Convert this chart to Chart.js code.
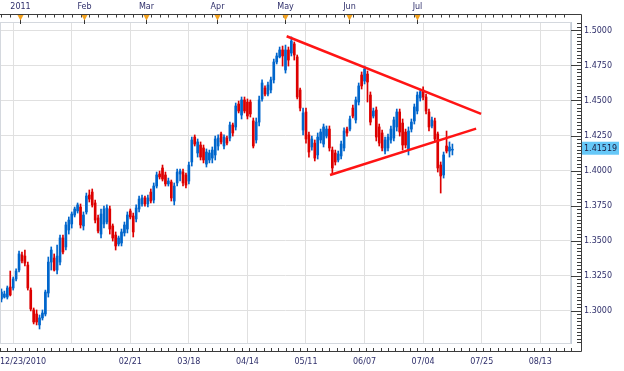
<!DOCTYPE html>
<html>
<head>
<meta charset="utf-8">
<script src="https://cdn.jsdelivr.net/npm/chart.js@4.4.1/dist/chart.umd.min.js"></script>
<style>
  html, body { margin: 0; padding: 0; background: #fff; }
  #wrap { position: relative; width: 624px; height: 371px; }
</style>
</head>
<body>
<div id="wrap"><canvas id="chart"></canvas></div>
<script>
// daily bars, index 0 = first bar on the left
const opens = [1.3082,1.3096,1.3096,1.3168,1.3161,1.3225,1.3289,1.3397,1.3389,1.3325,
  1.3146,1.3004,1.2975,1.2897,1.2947,1.2975,1.3125,1.3346,1.3375,1.3289,
  1.3346,1.3518,1.3454,1.3575,1.3618,1.3682,1.3711,1.3739,1.3604,1.3704,
  1.3825,1.3846,1.3768,1.3661,1.3546,1.3618,1.3632,1.3725,1.3604,1.3539,
  1.3475,1.3482,1.3554,1.3582,1.3711,1.3675,1.3654,1.3725,1.3761,1.3804,
  1.3761,1.3846,1.3789,1.3889,1.3975,1.4018,1.3968,1.3904,1.3918,1.3782,
  1.3911,1.3975,1.3989,1.3968,1.3925,1.4061,1.4239,1.4125,1.4182,1.4161,
  1.4046,1.4075,1.4089,1.4111,1.4175,1.4261,1.4175,1.4232,1.4232,1.4325,
  1.4311,1.4475,1.4396,1.4504,1.4489,1.4489,1.4354,1.4218,1.4346,1.4511,
  1.4589,1.4546,1.4575,1.4647,1.4775,1.4811,1.4861,1.4718,1.4861,1.4839,
  1.4904,1.4811,1.4575,1.4289,1.4418,1.4254,1.4168,1.4196,1.4111,1.4218,
  1.4189,1.4246,1.4296,1.4146,1.4125,1.4075,1.4104,1.4161,1.4296,1.4296,
  1.4446,1.4361,1.4489,1.4682,1.4639,1.4689,1.4539,1.4389,1.4432,1.4311,
  1.4268,1.4139,1.4161,1.4218,1.4232,1.4311,1.4418,1.4339,1.4275,1.4146,
  1.4296,1.4354,1.4425,1.4518,1.4575,1.4525,1.4418,1.4318,1.4354,1.4261,
  1.4039,1.3968,1.4175,1.4139,1.4146];
const highs = [1.3154,1.3139,1.3175,1.3282,1.3239,1.3297,1.3425,1.3418,1.3432,1.3346,
  1.3161,1.3018,1.3004,1.2968,1.3004,1.3146,1.3382,1.3454,1.3404,1.3468,
  1.3539,1.3539,1.3632,1.3668,1.3704,1.3739,1.3768,1.3761,1.3704,1.3839,
  1.3861,1.3868,1.3789,1.3682,1.3725,1.3746,1.3754,1.3746,1.3618,1.3561,
  1.3532,1.3582,1.3632,1.3704,1.3725,1.3696,1.3754,1.3818,1.3825,1.3818,
  1.3825,1.3868,1.3911,1.3989,1.3996,1.4039,1.3989,1.3946,1.3932,1.3911,
  1.4011,1.4011,1.4011,1.3982,1.4061,1.4239,1.4254,1.4225,1.4204,1.4182,
  1.4154,1.4146,1.4168,1.4246,1.4254,1.4275,1.4254,1.4246,1.4346,1.4339,
  1.4482,1.4496,1.4525,1.4525,1.4511,1.4504,1.4375,1.4375,1.4532,1.4647,
  1.4604,1.4632,1.4668,1.4796,1.4839,1.4882,1.4889,1.4896,1.4882,1.4954,
  1.4918,1.4825,1.4589,1.4446,1.4446,1.4275,1.4246,1.4218,1.4268,1.4296,
  1.4332,1.4318,1.4318,1.4168,1.4146,1.4139,1.4211,1.4304,1.4311,1.4389,
  1.4468,1.4525,1.4625,1.4704,1.4746,1.4711,1.4561,1.4446,1.4454,1.4332,
  1.4289,1.4239,1.4261,1.4318,1.4382,1.4439,1.4439,1.4368,1.4296,1.4311,
  1.4368,1.4475,1.4561,1.4582,1.4597,1.4546,1.4439,1.4382,1.4375,1.4275,
  1.4061,1.4132,1.4282,1.4204,1.4189];
const lows = [1.3061,1.3089,1.3082,1.3104,1.3146,1.3211,1.3275,1.3339,1.3318,1.3146,
  1.2997,1.2904,1.2897,1.2868,1.2932,1.2961,1.3096,1.3289,1.3282,1.3261,
  1.3325,1.3404,1.3432,1.3546,1.3589,1.3668,1.3696,1.3589,1.3575,1.3689,
  1.3775,1.3739,1.3625,1.3554,1.3518,1.3589,1.3618,1.3546,1.3496,1.3432,
  1.3461,1.3461,1.3532,1.3554,1.3654,1.3525,1.3632,1.3704,1.3746,1.3746,
  1.3739,1.3768,1.3768,1.3875,1.3939,1.3925,1.3889,1.3889,1.3782,1.3754,
  1.3889,1.3925,1.3889,1.3875,1.3904,1.4032,1.4175,1.4096,1.4075,1.4054,
  1.4025,1.4054,1.4054,1.4075,1.4146,1.4189,1.4154,1.4182,1.4211,1.4246,
  1.4289,1.4411,1.4368,1.4411,1.4368,1.4382,1.4161,1.4196,1.4318,1.4496,
  1.4532,1.4532,1.4554,1.4625,1.4761,1.4804,1.4746,1.4696,1.4746,1.4818,
  1.4789,1.4511,1.4425,1.4254,1.4196,1.4096,1.4146,1.4068,1.4082,1.4196,
  1.4168,1.4232,1.4139,1.3975,1.4039,1.4061,1.4082,1.4139,1.4246,1.4282,
  1.4375,1.4339,1.4468,1.4582,1.4618,1.4489,1.4325,1.4375,1.4211,1.4175,
  1.4139,1.4118,1.4139,1.4196,1.4211,1.4282,1.4246,1.4146,1.4161,1.4111,
  1.4275,1.4332,1.4404,1.4496,1.4504,1.4404,1.4282,1.4304,1.4204,1.3989,
  1.3839,1.3946,1.4125,1.4096,1.4111];
const closes = [1.3132,1.3118,1.3161,1.3111,1.3225,1.3282,1.3404,1.3354,1.3339,1.3161,
  1.3011,1.2918,1.2918,1.2947,1.2982,1.3132,1.3346,1.3432,1.3289,1.3389,
  1.3518,1.3418,1.3611,1.3646,1.3689,1.3725,1.3754,1.3611,1.3682,1.3818,
  1.3796,1.3754,1.3646,1.3568,1.3689,1.3725,1.3732,1.3582,1.3518,1.3461,
  1.3518,1.3561,1.3611,1.3682,1.3668,1.3561,1.3732,1.3796,1.3804,1.3761,
  1.3804,1.3782,1.3889,1.3968,1.3954,1.3939,1.3904,1.3925,1.3804,1.3889,
  1.3989,1.3996,1.3911,1.3896,1.4039,1.4218,1.4189,1.4204,1.4096,1.4075,
  1.4132,1.4125,1.4146,1.4225,1.4232,1.4204,1.4239,1.4196,1.4325,1.4268,
  1.4461,1.4425,1.4504,1.4425,1.4389,1.4404,1.4175,1.4346,1.4504,1.4625,
  1.4546,1.4611,1.4647,1.4775,1.4818,1.4861,1.4818,1.4861,1.4789,1.4925,
  1.4825,1.4525,1.4446,1.4411,1.4225,1.4132,1.4225,1.4089,1.4239,1.4275,
  1.4311,1.4296,1.4161,1.4018,1.4061,1.4118,1.4189,1.4282,1.4268,1.4368,
  1.4389,1.4504,1.4604,1.4604,1.4725,1.4632,1.4346,1.4425,1.4239,1.4196,
  1.4161,1.4218,1.4239,1.4296,1.4361,1.4418,1.4275,1.4182,1.4182,1.4282,
  1.4346,1.4454,1.4539,1.4561,1.4525,1.4425,1.4311,1.4361,1.4225,1.4018,
  1.3961,1.4111,1.4139,1.4168,1.4152];

const xTickIdx = [4, 24, 44, 64, 84, 104, 124, 144, 164, 184];
const xTickLabels = ["12/23/2010", "", "02/21", "03/18", "04/14", "05/11", "06/07", "07/04", "07/25", "08/13"];
const yTicks = [1.3, 1.325, 1.35, 1.375, 1.4, 1.425, 1.45, 1.475, 1.5];
const monthIdx = [6.2, 28.2, 49.4, 73.6, 96.8, 118.7, 141.9];
const monthLabels = ["2011", "Feb", "Mar", "Apr", "May", "Jun", "Jul"];
const upperLine = [{ x: 97.4, y: 1.4959 }, { x: 163.8, y: 1.4405 }];
const lowerLine = [{ x: 112.2, y: 1.3968 }, { x: 162.1, y: 1.4299 }];
const lastPrice = 1.41519;

const UP = "#0066cc";
const DOWN = "#dd0000";
const TREND = "#ff1414";
const GRID = "#e0e0e0";
const INK = "#2e2e6a";
const FONT = "8px 'DejaVu Sans'";

const barColors = closes.map((c, i) => (c >= opens[i] ? UP : DOWN));
const wicks = highs.map((h, i) => ({ x: i, y: [lows[i], h] }));
const bodies = opens.map((o, i) => ({ x: i, y: [o, closes[i]] }));

// frame, tick marks, month strip, date labels, last price tag
const decor = {
  id: "decor",
  afterDraw(chart) {
    const { ctx, chartArea: a, scales } = chart;
    const x = scales.x, y = scales.y;
    const R = 581.5, T = 14.5, B = 351.5;
    ctx.save();

    ctx.strokeStyle = "#d4d8de";
    ctx.lineWidth = 1;
    ctx.strokeRect(a.left + 0.5, a.top + 0.5, a.right - a.left - 1, a.bottom - a.top);

    ctx.strokeStyle = "#3c3c3c";
    ctx.beginPath();
    ctx.moveTo(0, T); ctx.lineTo(R, T); ctx.lineTo(R, B); ctx.lineTo(0, B);
    ctx.stroke();

    // price ticks on the right
    ctx.beginPath();
    for (let k = Math.ceil(y.min / 0.0025); k * 0.0025 <= y.max; k++) {
      const py = Math.round(y.getPixelForValue(k * 0.0025)) + 0.5;
      ctx.moveTo(k % 10 === 0 ? 571 : 577, py);
      ctx.lineTo(R, py);
    }
    // date ticks on the bottom
    for (let t = -0.5; t <= x.max; t += 2.5) {
      const px = Math.round(x.getPixelForValue(t)) + 0.5;
      const major = Math.abs((t - 4) % 20) < 0.01;
      ctx.moveTo(px, major ? 344 : 348);
      ctx.lineTo(px, B);
    }
    // small ticks under the month strip
    for (let t = 0; t <= x.max; t += 3) {
      const px = Math.round(x.getPixelForValue(t)) + 0.5;
      ctx.moveTo(px, T);
      ctx.lineTo(px, T + 3);
    }
    ctx.stroke();

    ctx.font = FONT;
    ctx.fillStyle = INK;
    ctx.textBaseline = "middle";

    monthIdx.forEach((m, i) => {
      const px = Math.round(x.getPixelForValue(m)) + 0.5;
      ctx.strokeStyle = "#333";
      ctx.beginPath();
      ctx.moveTo(px, 18); ctx.lineTo(px, 24);
      ctx.stroke();
      ctx.fillStyle = "#f3a21f";
      ctx.beginPath();
      ctx.moveTo(px - 3, 15); ctx.lineTo(px + 3, 15); ctx.lineTo(px, 20.5);
      ctx.closePath();
      ctx.fill();
      ctx.fillStyle = INK;
      ctx.textAlign = "center";
      ctx.fillText(monthLabels[i], px, 7);
    });

    ctx.textAlign = "left";
    xTickIdx.forEach((t, i) => {
      const s = xTickLabels[i];
      if (!s) return;
      const w = ctx.measureText(s).width;
      const px = x.getPixelForValue(t);
      ctx.fillText(s, Math.max(0, px - w / 2), 362);
    });

    const py = y.getPixelForValue(lastPrice) - 1;
    ctx.fillStyle = "#66c8f8";
    ctx.fillRect(582, py - 6.5, 37, 13);
    ctx.fillStyle = "#1c1c40";
    ctx.fillText(lastPrice.toFixed(5), 584, py + 0.5);

    ctx.restore();
  },
};

Chart.defaults.font.family = "'DejaVu Sans'";
Chart.defaults.font.size = 8;

new Chart(document.getElementById("chart"), {
  type: "bar",
  data: {
    datasets: [
      { type: "line", data: upperLine, borderColor: TREND, borderWidth: 2.5, pointRadius: 0, order: 0 },
      { type: "line", data: lowerLine, borderColor: TREND, borderWidth: 2.5, pointRadius: 0, order: 0 },
      { data: wicks, backgroundColor: barColors, barThickness: 1, grouped: false, order: 2 },
      { data: bodies, backgroundColor: barColors, barThickness: 2, grouped: false, order: 1 },
    ],
  },
  options: {
    responsive: true,
    maintainAspectRatio: false,
    devicePixelRatio: 1,
    animation: false,
    events: [],
    layout: { padding: { top: 22, left: 0, right: 0, bottom: 0 } },
    plugins: { legend: { display: false }, tooltip: { enabled: false } },
    scales: {
      x: {
        type: "linear",
        min: -0.5,
        max: 194.5,
        offset: false,
        afterBuildTicks: (s) => { s.ticks = xTickIdx.map((v) => ({ value: v })); },
        afterFit: (s) => { s.height = 28; },
        ticks: { display: false },
        grid: { color: GRID, offset: false, drawTicks: false },
        border: { color: "#d4d8de" },
      },
      y: {
        type: "linear",
        position: "right",
        min: 1.27679,
        max: 1.50607,
        afterBuildTicks: (s) => { s.ticks = yTicks.map((v) => ({ value: v })); },
        afterFit: (s) => { s.width = 53; },
        ticks: { color: INK, padding: 2, callback: (v) => Number(v).toFixed(4) },
        grid: { color: GRID, drawTicks: true, tickLength: 11, tickColor: "rgba(0,0,0,0)" },
        border: { color: "#c4ccd8" },
      },
    },
  },
  plugins: [decor],
});
</script>
</body>
</html>
